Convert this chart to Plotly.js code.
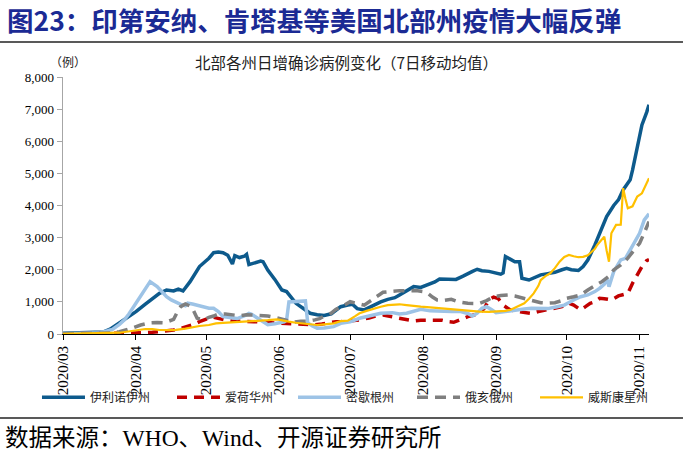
<!DOCTYPE html>
<html><head><meta charset="utf-8">
<script src="https://cdn.plot.ly/plotly-3.0.1.min.js"></script>
<style>html,body{margin:0;padding:0;background:#fff;}#chart{width:683px;height:454px;}</style>
</head><body><div id="chart"></div>
<script>
// Day offsets counted from 2020-03-01, 7-day moving average of daily new cases
const startDate = [2020, 2, 1];
const seriesNames = ['伊利诺伊州', '爱荷华州', '密歇根州', '俄亥俄州', '威斯康星州'];

const ilDays = [0,10,17,20,24,27,31,35,38,41,44,47,49,51,54,58,62,64,66,68,70,72,73,75,77,78,79,81,84,85,87,90,93,95,97,99,102,105,108,111,114,116,118,121,123,125,128,130,132,135,138,141,143,146,149,152,155,158,160,164,167,170,172,174,176,178,181,184,186,187,188,190,192,194,195,198,200,203,206,209,212,214,216,219,221,223,226,229,231,234,236,238,240,241,242,244,246,248,249];
const ilVals = [20,30,60,150,350,490,695,930,1110,1265,1370,1340,1400,1340,1630,2100,2360,2530,2550,2530,2450,2180,2440,2380,2420,2480,2160,2210,2270,2250,1990,1700,1370,1320,1150,955,800,645,600,580,630,750,850,900,925,790,750,820,900,1000,1080,1130,1215,1330,1475,1450,1545,1620,1713,1720,1700,1800,1890,1950,2015,1970,1950,1900,1860,1900,2410,2330,2250,2250,1735,1680,1750,1840,1880,1920,2000,2045,2000,1975,2100,2300,2770,3300,3655,4000,4175,4485,4700,4800,5100,5835,6510,6900,7135];

const iaDays = [0,20,25,30,34,38,41,44,47,50,53,56,58,60,62,64,66,69,72,75,78,81,84,87,90,93,97,100,104,107,110,113,116,118,122,126,130,133,136,139,143,146,149,152,155,158,161,164,166,169,172,175,177,179,181,183,185,187,190,193,196,199,202,206,209,212,215,217,219,220,222,224,226,228,230,233,236,238,240,242,244,246,248,249];
const iaVals = [5,10,20,30,40,55,70,100,125,170,230,310,385,440,490,520,480,435,400,385,390,385,380,360,340,330,310,300,280,290,310,350,385,385,410,435,500,560,590,550,490,440,405,430,435,430,430,380,365,450,540,600,645,800,1060,1150,1100,900,750,700,665,640,700,750,800,850,955,900,800,750,850,955,1000,1110,1100,1060,1185,1220,1265,1580,1850,2100,2285,2320];

const miDays = [0,16,19,21,24,26,28,30,32,34,35,37,40,42,44,46,48,50,52,53,55,57,60,62,64,66,68,71,74,77,79,80,82,84,86,87,90,92,94,95,96,103,104,106,108,111,115,118,122,126,130,135,140,143,146,149,152,156,160,165,169,172,174,176,178,180,182,184,188,192,196,199,203,206,210,213,217,220,223,226,228,230,231,232,234,237,239,241,243,245,247,249];
const miVals = [10,40,100,145,300,435,620,850,1100,1320,1450,1630,1475,1320,1160,1060,985,920,880,960,935,900,850,800,800,700,540,500,480,560,640,620,520,435,320,290,320,340,380,430,1000,1030,340,250,180,190,230,330,380,490,560,645,665,620,645,700,770,720,700,700,700,640,560,650,800,850,760,665,700,750,780,800,780,790,850,900,1060,1160,1215,1320,1420,1550,1735,1475,1940,2305,2355,2615,2825,3135,3550,3740];

const ohDays = [0,20,24,27,30,33,37,40,43,45,47,49,50,52,54,55,57,60,62,64,66,69,72,75,78,81,84,87,90,92,95,98,101,104,107,109,111,114,116,118,120,122,125,128,132,136,140,143,147,150,153,155,157,159,162,165,168,172,175,177,180,183,186,189,192,196,199,203,206,209,212,214,217,220,223,226,229,232,234,237,240,242,245,247,249];
const ohVals = [10,30,70,125,200,280,350,360,350,400,455,750,850,935,870,800,490,440,520,560,620,620,590,570,600,590,570,560,520,480,430,370,400,400,440,480,560,650,770,830,920,1005,950,900,1100,1300,1330,1350,1340,1350,1320,1265,1150,1060,1050,1080,1000,955,950,955,1040,1160,1200,1215,1180,1110,1030,975,960,975,1040,1110,1160,1215,1370,1500,1630,1800,1995,2150,2360,2550,2825,3150,3500];

const wiDays = [0,20,24,27,31,35,38,41,45,48,52,55,58,62,65,68,72,75,78,81,84,87,91,93,96,99,102,105,108,111,115,118,121,124,126,129,132,135,138,141,143,146,149,152,156,160,164,169,173,177,181,185,188,190,193,196,198,200,202,203,205,207,209,211,213,215,217,219,221,223,224,226,227,229,230,231,232,233,235,237,238,239,240,242,244,246,247,249];
const wiVals = [5,20,40,70,110,155,150,125,120,130,170,210,250,280,330,345,360,385,395,410,415,430,455,420,385,350,330,310,280,300,330,400,415,550,645,720,790,850,900,920,925,900,870,850,830,800,780,750,720,695,690,695,720,750,850,955,1100,1265,1500,1680,1800,1890,2050,2250,2400,2460,2420,2390,2400,2450,2515,2650,2770,2950,3030,2600,2250,3135,3395,3400,4540,4200,3915,3975,4280,4380,4540,4850];

const yTickVals = [0,1000,2000,3000,4000,5000,6000,7000,8000];

function toDates(days){
  return days.map(d => {
    const dt = new Date(Date.UTC(startDate[0], startDate[1], startDate[2] + d));
    return dt.toISOString().slice(0,10);
  });
}

const cjk = '"Noto Sans CJK SC", sans-serif';
const serif = '"Liberation Serif", "Noto Sans CJK SC", serif';

const traces = [
  {x: toDates(ilDays), y: ilVals, name: seriesNames[0], legend: 'legend',  line: {color: '#0d5a8c', width: 3.5}},
  {x: toDates(iaDays), y: iaVals, name: seriesNames[1], legend: 'legend2', line: {color: '#c00000', width: 3.5, dash: '10px,7px'}},
  {x: toDates(miDays), y: miVals, name: seriesNames[2], legend: 'legend3', line: {color: '#9dc3e6', width: 3.5}},
  {x: toDates(ohDays), y: ohVals, name: seriesNames[3], legend: 'legend4', line: {color: '#7f7f7f', width: 3.5, dash: '11px,7px'}},
  {x: toDates(wiDays), y: wiVals, name: seriesNames[4], legend: 'legend5', line: {color: '#ffc000', width: 2.2}}
].map(t => Object.assign({type: 'scatter', mode: 'lines', hoverinfo: 'skip', showlegend: true}, t));

function legendAt(xp){
  return {
    orientation: 'h', x: xp, xanchor: 'left', y: -0.19, yanchor: 'top',
    font: {family: cjk, size: 12, color: '#222'},
    itemwidth: 43, bgcolor: 'rgba(0,0,0,0)', borderwidth: 0
  };
}

const layout = {
  width: 683, height: 454,
  margin: {l: 63, r: 34, t: 77, b: 120, autoexpand: false},
  paper_bgcolor: '#fff', plot_bgcolor: '#fff',
  showlegend: true,
  font: {family: serif, color: '#000'},
  xaxis: {
    type: 'date', range: ['2020-03-01', '2020-11-05'],
    dtick: 'M1', tick0: '2020-03-01', tickformat: '%Y/%m', tickangle: -90,
    showgrid: false, zeroline: false, showline: true, linecolor: '#000', linewidth: 1,
    ticks: 'outside', ticklen: 5, tickcolor: '#000',
    tickfont: {family: serif, size: 15, color: '#000'}
  },
  yaxis: {
    range: [0, 8000], tickvals: yTickVals, tickformat: ',',
    showgrid: false, zeroline: false, showline: true, linecolor: '#a6a6a6', linewidth: 1.5,
    ticks: 'outside', ticklen: 5, tickcolor: '#a6a6a6',
    tickfont: {family: serif, size: 13, color: '#000'}
  },
  legend: legendAt(-0.0444),
  legend2: legendAt(0.1860),
  legend3: legendAt(0.3925),
  legend4: legendAt(0.5956),
  legend5: legendAt(0.8055),
  annotations: [
    {xref: 'paper', yref: 'paper', x: -0.099, y: 1.2238, xanchor: 'left', yanchor: 'middle',
     text: '<b>图23：印第安纳、肯塔基等美国北部州疫情大幅反弹</b>', showarrow: false,
     font: {family: '"Noto Sans CJK SC", serif', size: 26.5, color: '#1b2a94'}},
    {xref: 'paper', yref: 'paper', x: 0.483, y: 1.06, xanchor: 'center', yanchor: 'middle',
     text: '北部各州日增确诊病例变化（7日移动均值）', showarrow: false,
     font: {family: cjk, size: 15.5, color: '#222'}},
    {xref: 'paper', yref: 'paper', x: 0.0085, y: 1.06, xanchor: 'center', yanchor: 'middle',
     text: '（例）', showarrow: false,
     font: {family: cjk, size: 12, color: '#222'}},
    {xref: 'paper', yref: 'paper', x: -0.102, y: -0.405, xanchor: 'left', yanchor: 'middle',
     text: '数据来源：WHO、Wind、开源证券研究所', showarrow: false,
     font: {family: serif, size: 23.5, color: '#000'}}
  ],
  shapes: [
    {type: 'line', xref: 'paper', yref: 'paper', x0: -0.1075, x1: 1.058, y0: 1.136, y1: 1.136,
     line: {color: '#222', width: 1.5}},
    {type: 'line', xref: 'paper', yref: 'paper', x0: -0.1075, x1: 1.058, y0: -0.327, y1: -0.327,
     line: {color: '#222', width: 1.5}}
  ]
};

Plotly.newPlot('chart', traces, layout, {displayModeBar: false, staticPlot: true});
</script>
</body></html>
